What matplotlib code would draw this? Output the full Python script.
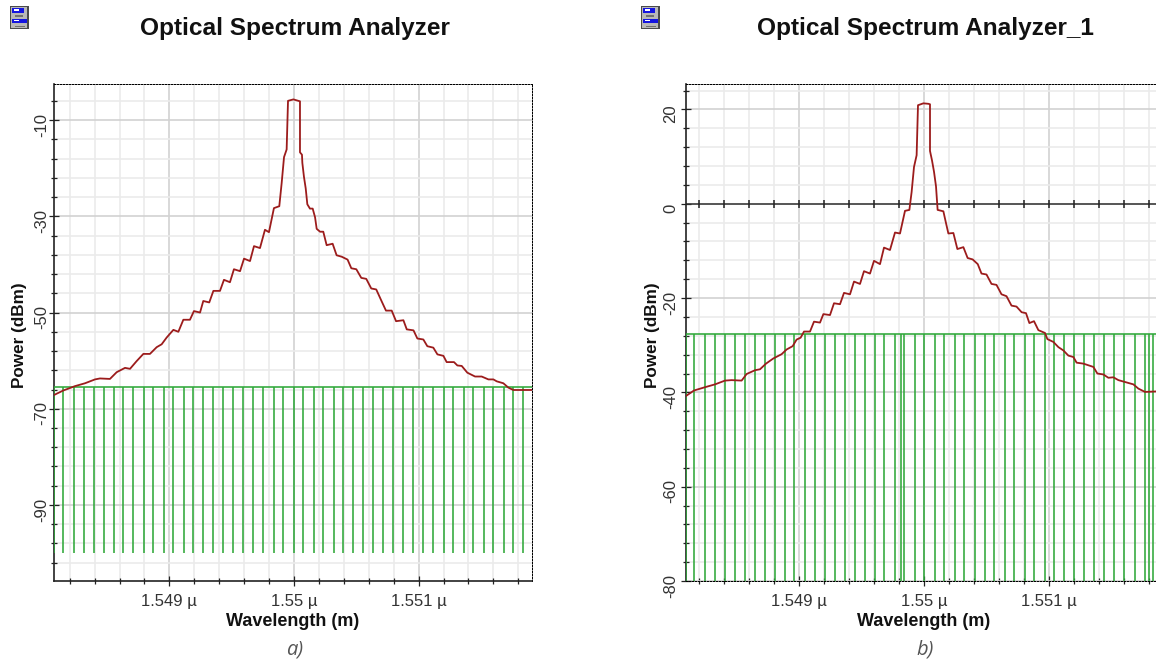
import matplotlib
matplotlib.use("Agg")
import matplotlib.pyplot as plt
from matplotlib.patches import Rectangle
from matplotlib.ticker import MultipleLocator, FixedLocator
from matplotlib.transforms import ScaledTranslation
import numpy as np

W = 1156
H = 662

# Wavelength is held as nm away from 1550 nm, power in dBm
trace_a_x = [-1.923, -1.851, -1.758, -1.677, -1.597, -1.557, -1.477, -1.423, -1.356, -1.316, -1.263, -1.209,
             -1.156, -1.102, -1.062, -1.022, -0.968, -0.928, -0.888, -0.835, -0.803, -0.754, -0.728, -0.680,
             -0.647, -0.594, -0.562, -0.514, -0.482, -0.433, -0.401, -0.353, -0.321, -0.273, -0.233, -0.201,
             -0.161, -0.118, -0.099, -0.080, -0.059, -0.048, -0.005, 0.035, 0.048, 0.048, 0.064, 0.067, 0.080,
             0.094, 0.107, 0.128, 0.150, 0.169, 0.182, 0.209, 0.235, 0.262, 0.310, 0.342, 0.383, 0.430, 0.460,
             0.500, 0.540, 0.580, 0.620, 0.660, 0.704, 0.738, 0.784, 0.819, 0.878, 0.905, 0.959, 0.990, 1.038,
             1.070, 1.118, 1.151, 1.199, 1.225, 1.284, 1.311, 1.346, 1.391, 1.453, 1.506, 1.560, 1.600, 1.627,
             1.680, 1.720, 1.760, 1.827, 1.907]
trace_a_y = [-67.1, -66.2, -65.3, -64.7, -63.9, -63.7, -63.8, -62.4, -61.5, -61.7, -60.1, -58.6,
             -58.6, -57.2, -56.6, -55.2, -53.6, -54.0, -51.5, -51.5, -49.7, -50.0, -47.6, -47.9,
             -45.5, -45.5, -43.2, -43.7, -41.0, -41.4, -38.8, -39.3, -36.2, -36.6, -32.8, -33.3,
             -28.3, -27.9, -23.1, -17.7, -16.1, -6.0, -5.7, -6.0, -6.1, -16.7, -17.2, -18.9, -21.8,
             -24.2, -27.5, -28.4, -28.4, -30.2, -32.6, -33.2, -33.2, -36.0, -35.7, -38.1, -38.4, -39.0, -40.8,
             -41.0, -42.8, -43.0, -45.0, -45.2, -47.7, -49.6, -49.6, -51.8, -51.6, -53.5, -53.7, -55.4, -55.6,
             -57.0, -57.3, -58.7, -59.0, -60.3, -60.3, -61.0, -61.1, -62.5, -63.3, -63.3, -63.9, -63.9, -64.3,
             -64.7, -65.6, -66.1, -66.1, -66.1]

trace_b_x = [-1.912, -1.840, -1.752, -1.672, -1.592, -1.539, -1.459, -1.419, -1.352, -1.312, -1.264, -1.205,
             -1.139, -1.099, -1.051, -1.019, -0.987, -0.960, -0.912, -0.880, -0.832, -0.805, -0.752, -0.720,
             -0.672, -0.640, -0.592, -0.560, -0.512, -0.480, -0.432, -0.400, -0.352, -0.320, -0.272, -0.232,
             -0.192, -0.152, -0.117, -0.099, -0.080, -0.059, -0.048, -0.005, 0.035, 0.048, 0.048, 0.064, 0.080,
             0.096, 0.109, 0.155, 0.176, 0.195, 0.235, 0.267, 0.315, 0.349, 0.389, 0.430, 0.460, 0.500, 0.540,
             0.580, 0.620, 0.660, 0.700, 0.740, 0.781, 0.816, 0.843, 0.880, 0.915, 0.968, 0.987, 1.035, 1.075,
             1.115, 1.155, 1.195, 1.221, 1.275, 1.355, 1.387, 1.435, 1.475, 1.515, 1.555, 1.635, 1.675, 1.715,
             1.768, 1.856]
trace_b_y = [-40.9, -39.6, -38.9, -38.3, -37.5, -37.4, -37.5, -36.1, -35.3, -35.1, -33.9, -32.8,
             -31.9, -30.9, -30.2, -28.8, -28.4, -27.1, -27.1, -25.0, -25.2, -23.4, -23.6, -21.1,
             -21.3, -18.9, -19.2, -16.5, -17.0, -14.3, -14.8, -12.1, -12.8, -9.3, -9.8, -6.1,
             -6.3, -1.5, -1.3, 2.5, 7.8, 10.3, 20.9, 21.3, 21.2, 21.1, 11.2, 9.2, 6.8,
             3.7, -1.3, -1.6, -4.1, -6.3, -6.2, -9.6, -9.2, -11.5, -11.8, -12.8, -14.8, -15.0, -17.0,
             -17.2, -19.2, -19.6, -21.6, -21.8, -23.0, -23.2, -25.3, -24.9, -26.8, -27.4, -28.7, -29.3, -30.4,
             -31.1, -32.2, -32.5, -33.7, -33.9, -34.6, -36.0, -36.2, -36.9, -36.8, -37.4, -38.0, -38.3, -39.2,
             -39.9, -39.8]

comb_a_x = [-1.926, -1.850, -1.766, -1.688, -1.605, -1.527, -1.445, -1.370, -1.292, -1.204, -1.129, -1.043,
            -0.969, -0.883, -0.808, -0.728, -0.648, -0.567, -0.487, -0.407, -0.327, -0.249, -0.161, -0.088,
            0.000, 0.075, 0.161, 0.235, 0.321, 0.396, 0.471, 0.556, 0.632, 0.717, 0.792, 0.877, 0.957, 1.038,
            1.118, 1.204, 1.278, 1.364, 1.439, 1.525, 1.600, 1.685, 1.760, 1.840]
comb_b_x = [-1.904, -1.838, -1.750, -1.674, -1.590, -1.514, -1.434, -1.354, -1.274, -1.194, -1.114, -1.038,
            -0.954, -0.874, -0.794, -0.714, -0.634, -0.554, -0.474, -0.396, -0.320, -0.236, -0.186, -0.162,
            -0.072, 0.000, 0.086, 0.160, 0.246, 0.320, 0.406, 0.486, 0.560, 0.646, 0.720, 0.806, 0.880, 0.966,
            1.040, 1.120, 1.200, 1.280, 1.360, 1.440, 1.520, 1.600, 1.686, 1.766, 1.802, 1.834]
comb_a_top = -65.5
comb_a_bottom = -100
comb_b_top = -27.7
comb_b_bottom = -80

x_ticks = [1549, 1550, 1551]
x_labels = ["1.549 \u00b5", "1.55 \u00b5", "1.551 \u00b5"]
y_ticks_a = [-90, -70, -50, -30, -10]
y_ticks_b = [-80, -60, -40, -20, 0, 20]

RED = "#9c1c1c"
GREEN = "#2fa83a"
FONT = "Liberation Sans"
DOTS = (0, (1.5, 1.5))


# Pixel box of the reference -> figure fractions
def px_axes(fig, left, top, right, bottom):
    return fig.add_axes([left / W, 1 - bottom / H, (right - left) / W, (bottom - top) / H])


def px_text(fig, x, y, s, **kw):
    fig.text(x / W, 1 - y / H, s, ha="center", va="center", **kw)


def draw_icon(fig, x, y):
    boxes = [(0, 0, 18.7, 23, "#4a4a4a"), (0.7, 0.7, 16.5, 21, "#b8b8b8"), (2, 2, 12, 5, "#1414e0"),
             (2, 13.3, 15, 4, "#1414e0"), (4, 3.5, 5, 1, "#ffffff"), (4, 14, 5, 1, "#ffffff"),
             (5, 9.5, 8, 1, "#707070"), (5, 20, 10, 1, "#707070")]
    for bx, by, bw, bh, col in boxes:
        fig.add_artist(Rectangle(((x + bx) / W, 1 - (y + by + bh) / H), bw / W, bh / H,
                                 transform=fig.transFigure, facecolor=col, edgecolor="none"))


def draw_panel(ax, tr_x, tr_y, comb_x, comb_top, comb_bottom, xlim, ylim, y_ticks, y_minor, dotted_bottom, y_pad):
    ax.set_xlim(1550 + xlim[0], 1550 + xlim[1])
    ax.set_ylim(ylim)
    ax.set_axisbelow(True)

    ax.set_xticks(x_ticks)
    ax.set_xticklabels(x_labels)
    ax.xaxis.set_minor_locator(MultipleLocator(0.2))
    ax.set_yticks(y_ticks)
    ax.set_yticklabels([str(v) for v in y_ticks], rotation=90, va="center")
    ax.yaxis.set_minor_locator(FixedLocator(y_minor))

    ax.grid(which="major", color="#d2d2d2", lw=1.2)
    ax.grid(which="minor", color="#ebebeb", lw=1.2)
    ax.tick_params(which="major", direction="inout", length=7, width=0.9, color="#222222",
                   labelsize=12, labelcolor="#333333")
    ax.tick_params(which="minor", direction="inout", length=4.5, width=0.9, color="#222222")
    ax.tick_params(axis="x", which="major", pad=6)
    ax.tick_params(axis="y", which="major", pad=y_pad)
    for t in ax.get_xticklabels() + ax.get_yticklabels():
        t.set_fontfamily(FONT)
    # the rotated labels in the reference sit a little below their tick
    shift = ScaledTranslation(0, -4.5 / 100, ax.figure.dpi_scale_trans)
    for t in ax.get_yticklabels():
        t.set_transform(t.get_transform() + shift)

    for side in ["top", "right"]:
        ax.spines[side].set_linestyle(DOTS)
        ax.spines[side].set_linewidth(0.72)
    ax.spines["left"].set_linewidth(1.2)
    ax.spines["left"].set_color("#222222")
    if dotted_bottom:
        ax.spines["bottom"].set_linestyle(DOTS)
        ax.spines["bottom"].set_linewidth(0.72)
    else:
        ax.spines["bottom"].set_linewidth(1.2)
        ax.spines["bottom"].set_color("#222222")

    wl = 1550 + np.array(comb_x)
    ax.vlines(wl, comb_bottom, comb_top, color=GREEN, lw=1.15, zorder=3)
    ax.hlines(comb_top, 1550 + xlim[0], 1550 + xlim[1], color=GREEN, lw=1.15, zorder=3)
    ax.plot(1550 + np.array(tr_x), tr_y, color=RED, lw=1.3, zorder=4)


fig = plt.figure(figsize=(W / 100, H / 100), dpi=100, facecolor="white")

ax_a = px_axes(fig, 54, 84, 532, 581)
draw_panel(ax_a, trace_a_x, trace_a_y, comb_a_x, comb_a_top, comb_a_bottom,
           (-1.926, 1.910), (-105.8, -2.5), y_ticks_a, list(range(-102, -2, 4)), False, 0)

ax_b = px_axes(fig, 686, 84, 1156, 581)
draw_panel(ax_b, trace_b_x, trace_b_y, comb_b_x, comb_b_top, comb_b_bottom,
           (-1.904, 1.856), (-80, 25.4), y_ticks_b, list(range(-76, 26, 4)), True, 2)
# the 0 dBm line carries ticks like an axis in the second panel
minor_wl = np.arange(1548.2, 1552, 0.2)
ax_b.axhline(0, color="#333333", lw=1.1, zorder=2)
ax_b.plot(minor_wl, np.zeros(len(minor_wl)), ls="none", marker="|", ms=6, mew=1.1, color="#222222", zorder=2)

for cx, name, cap, lab_x in [(295, "Optical Spectrum Analyzer", "a)", 20), (925.5, "Optical Spectrum Analyzer_1", "b)", 652)]:
    px_text(fig, cx, 29, name, fontsize=17.6, fontweight="bold", family=FONT, color="#111111")
    px_text(fig, cx - 2, 622, "Wavelength (m)", fontsize=13, fontweight="bold", family=FONT, color="#111111")
    px_text(fig, cx, 650, cap, fontsize=14.5, style="italic", family="Open Sans", color="#555555")
    px_text(fig, lab_x, 335, "Power (dBm)", fontsize=12.3, fontweight="bold", family=FONT, color="#111111", rotation=90)

draw_icon(fig, 10, 6)
draw_icon(fig, 641, 6)

fig.savefig("out.png", dpi=100)
